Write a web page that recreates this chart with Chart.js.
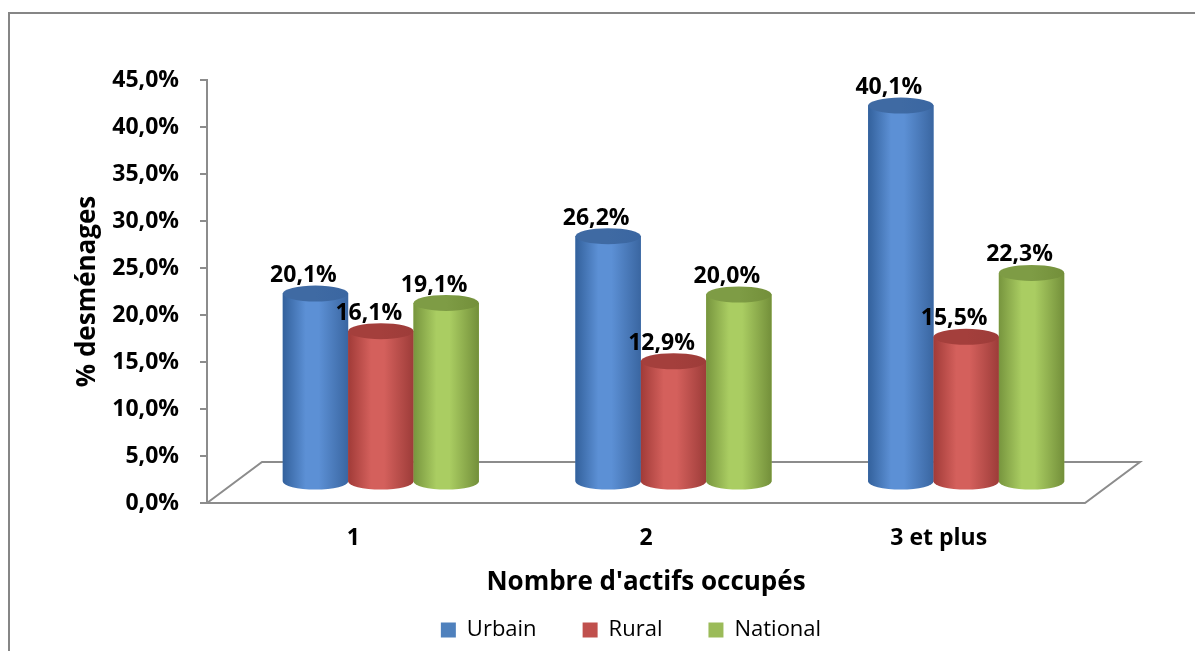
<!DOCTYPE html>
<html lang="fr">
<head>
<meta charset="UTF-8">
<title>Nombre d'actifs occupés</title>
<script src="https://cdn.jsdelivr.net/npm/chart.js"></script>
<style>
    body {
        margin: 0;
        background: #fff;
        overflow: hidden;
    }
    .frame {
        position: absolute;
        left: 8px;
        top: 12px;
        width: 1300px;
        height: 800px;
        border-left: 2px solid #868686;
        border-top: 2px solid #868686;
    }
    canvas {
        position: absolute;
        left: 0;
        top: 0;
    }
</style>
</head>
<body>
<div class="frame"></div>
<canvas id="chart" width="1195" height="651"></canvas>
<script>
    const categories = ['1', '2', '3 et plus'];
    const urbain = [20.1, 26.2, 40.1];
    const rural = [16.1, 12.9, 15.5];
    const national = [19.1, 20.0, 22.3];
    const yMin = 0, yMax = 45, yStep = 5;

    const family = "'Open Sans', sans-serif";
    const depth = { x: 55, y: -41 };   // floor depth of the fake 3D box

    function pct(v) {
        return v.toFixed(1).replace('.', ',') + '%';
    }

    // left edge, highlight, right edge, top cap
    const shades = {
        Urbain: ['#33619c', '#5c90d5', '#3a66a1', '#3f6aa3'],
        Rural: ['#a13b38', '#d4605c', '#9d3c39', '#a43f3c'],
        National: ['#77953e', '#aacd62', '#738f3a', '#7e9c45']
    };

    // floor + cylinders + value labels
    const cylinders = {
        id: 'cylinders',
        afterLayout(chart) {
            // legend sits a bit left of the plot centre in the original
            chart.legend.left -= 15;
            chart.legend.right -= 15;
        },
        beforeDatasetsDraw(chart) {
            const { ctx, chartArea: a } = chart;
            ctx.save();
            ctx.strokeStyle = '#8c8c8c';
            ctx.lineWidth = 2;
            ctx.beginPath();
            ctx.moveTo(a.left, a.bottom);
            ctx.lineTo(a.left + depth.x, a.bottom + depth.y);
            ctx.lineTo(a.right + depth.x, a.bottom + depth.y);
            ctx.lineTo(a.right, a.bottom);
            ctx.closePath();
            ctx.stroke();
            ctx.restore();

            ctx.save();
            ctx.translate(depth.x / 2, depth.y / 2);
        },
        afterDatasetsDraw(chart) {
            const ctx = chart.ctx;
            const ry = 8;
            chart.data.datasets.forEach((ds, i) => {
                const sh = shades[ds.label];
                chart.getDatasetMeta(i).data.forEach((bar, j) => {
                    const { x, y, base, width } = bar.getProps(['x', 'y', 'base', 'width'], true);
                    const l = x - width / 2, r = x + width / 2;

                    const g = ctx.createLinearGradient(l, 0, r, 0);
                    g.addColorStop(0, sh[0]);
                    g.addColorStop(0.35, sh[1]);
                    g.addColorStop(0.55, sh[1]);
                    g.addColorStop(1, sh[2]);
                    ctx.fillStyle = g;
                    ctx.beginPath();
                    ctx.moveTo(l, y);
                    ctx.lineTo(l, base);
                    ctx.ellipse(x, base, width / 2, ry, 0, Math.PI, 0, true);
                    ctx.lineTo(r, y);
                    ctx.closePath();
                    ctx.fill();

                    const gt = ctx.createLinearGradient(l, 0, r, 0);
                    gt.addColorStop(0, sh[3]);
                    gt.addColorStop(0.5, sh[3]);
                    gt.addColorStop(1, sh[2]);
                    ctx.fillStyle = gt;
                    ctx.beginPath();
                    ctx.ellipse(x, y, width / 2, ry, 0, 0, Math.PI * 2);
                    ctx.fill();

                    ctx.fillStyle = '#000';
                    ctx.font = 'bold 23px ' + family;
                    ctx.textAlign = 'center';
                    ctx.textBaseline = 'middle';
                    ctx.fillText(pct(ds.data[j]), x - 12, y - ry - 10);
                });
            });
            ctx.restore();
        }
    };

    new Chart(document.getElementById('chart'), {
        type: 'bar',
        data: {
            labels: categories,
            datasets: [
                { label: 'Urbain', data: urbain, backgroundColor: '#4f81bd' },
                { label: 'Rural', data: rural, backgroundColor: '#c0504d' },
                { label: 'National', data: national, backgroundColor: '#9bbb59' }
            ]
        },
        options: {
            responsive: false,
            animation: false,
            layout: { padding: { top: 80, right: 110, left: 0, bottom: 0 } },
            datasets: { bar: { barPercentage: 1, categoryPercentage: 0.67, borderWidth: 0 } },
            plugins: {
                legend: {
                    position: 'bottom',
                    fullSize: false,
                    labels: {
                        font: { family: family, size: 22 },
                        color: '#000',
                        boxWidth: 15,
                        boxHeight: 15,
                        padding: 46
                    }
                },
                tooltip: { enabled: false }
            },
            scales: {
                x: {
                    grid: { display: false, drawTicks: false },
                    border: { display: false },
                    ticks: { font: { family: family, size: 23, weight: 'bold' }, color: '#000', padding: 22 },
                    title: {
                        display: true,
                        text: "Nombre d'actifs occupés",
                        font: { family: family, size: 26, weight: 'bold' },
                        color: '#000',
                        padding: { top: 0, bottom: -25.6 }
                    },
                    afterFit: s => { s.height = 70; }
                },
                y: {
                    min: yMin,
                    max: yMax,
                    ticks: {
                        stepSize: yStep,
                        callback: v => pct(v),
                        font: { family: family, size: 23, weight: 'bold' },
                        color: '#000',
                        padding: 21
                    },
                    grid: { drawOnChartArea: false, color: '#8c8c8c', lineWidth: 2, tickLength: 7 },
                    border: { color: '#8c8c8c', width: 2 },
                    title: {
                        display: true,
                        text: '% desménages',
                        font: { family: family, size: 26, weight: 'bold' },
                        color: '#000',
                        padding: { top: 72.4, bottom: 0 }
                    },
                    afterFit: s => { s.width = 207; }
                }
            }
        },
        plugins: [cylinders]
    });
</script>
</body>
</html>
